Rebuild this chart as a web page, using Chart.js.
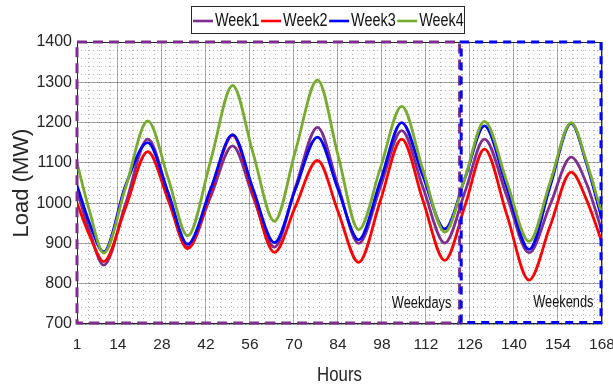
<!DOCTYPE html>
<html lang="en">
<head>
<meta charset="UTF-8">
<title>Weekly Load</title>
<script src="https://cdn.jsdelivr.net/npm/chart.js"></script>
<style>
body {
    margin: 0;
    background: #fff;
}
.wrap {
    width: 613px;
    height: 384px;
}
</style>
</head>
<body>
<div class="wrap"><canvas id="loadChart" width="613" height="384"></canvas></div>
<script>
const hours = [1, 5, 9.5, 16.5, 23.5, 30, 36.2, 43.5, 50.5, 57, 63.8, 70.5, 77.5, 84, 90.6, 97.5, 104.3, 111, 118, 124.5, 130.6, 137.7, 144.8, 151.5, 158.2, 163, 168];
const week1 = [1030, 930, 846, 1000, 1159, 1025, 890, 1016, 1142, 1016, 891, 1040, 1188, 1044, 900, 1040, 1180, 1040, 901, 1030, 1159, 1018, 877, 996, 1114, 1050, 930];
const week2 = [1000, 920, 855, 990, 1128, 1008, 887, 1028, 1168, 1023, 878, 992, 1106, 980, 853, 1006, 1159, 1008, 858, 996, 1134, 972, 809, 943, 1077, 1010, 903];
const week3 = [1044, 950, 879, 1045, 1150, 1025, 898, 1035, 1170, 1035, 902, 1035, 1164, 1035, 909, 1055, 1200, 1068, 936, 1064, 1192, 1040, 885, 1042, 1198, 1100, 960];
const week4 = [1100, 980, 876, 1040, 1204, 1062, 919, 1105, 1292, 1124, 955, 1130, 1306, 1120, 934, 1087, 1240, 1084, 928, 1065, 1203, 1054, 905, 1052, 1200, 1105, 972];

const xTicks = [1, 14, 28, 42, 56, 70, 84, 98, 112, 126, 140, 154, 168];
const yTicks = [700, 800, 900, 1000, 1100, 1200, 1300, 1400];

// dashed regions: [start hour, end hour]
const weekdaysSpan = [1, 122.7];
const weekendsSpan = [123.2, 168];

const FONT = '"Liberation Sans", Arial, sans-serif';
const INK = '#262626';

function series(vals) {
    return hours.map((h, i) => ({ x: h, y: vals[i] }));
}

// narrow text like the original figure
function narrowText(ctx, text, x, y, size, sx, align) {
    ctx.save();
    ctx.font = size + 'px ' + FONT;
    ctx.textBaseline = 'middle';
    ctx.textAlign = 'left';
    const w = ctx.measureText(text).width * sx;
    let left = x;
    if (align === 'center') left = x - w / 2;
    ctx.translate(left, y);
    ctx.scale(sx, 1);
    ctx.fillText(text, 0, 0);
    ctx.restore();
    return w;
}

const minorX = [];
for (let h = 1; h < 168; h += 3.5) minorX.push(h);
const minorY = [];
for (let v = 700; v <= 1400; v += 20) minorY.push(v);

const figurePlugin = {
    id: 'figure',
    beforeDatasetsDraw(chart) {
        const { ctx, chartArea: a } = chart;
        ctx.save();
        ctx.strokeStyle = INK;
        ctx.lineWidth = 1;
        ctx.strokeRect(a.left + 0.5, a.top + 0.5, a.width - 1, a.height - 1);
        ctx.restore();
    },
    afterDatasetsDraw(chart) {
        const { ctx, scales: { x, y } } = chart;
        ctx.save();
        ctx.lineWidth = 3;
        ctx.strokeStyle = '#7E2F8E';
        ctx.setLineDash([10, 6]);
        let x0 = x.getPixelForValue(weekdaysSpan[0]), x1 = x.getPixelForValue(weekdaysSpan[1]);
        ctx.strokeRect(x0, y.getPixelForValue(1400), x1 - x0, y.getPixelForValue(700) - y.getPixelForValue(1400) - 1);
        ctx.strokeStyle = '#0000FF';
        ctx.setLineDash([8, 6]);
        x0 = x.getPixelForValue(weekendsSpan[0]); x1 = x.getPixelForValue(weekendsSpan[1]);
        ctx.strokeRect(x0, y.getPixelForValue(1400), x1 - x0 - 1, y.getPixelForValue(704) - y.getPixelForValue(1400));
        ctx.restore();

        ctx.fillStyle = '#111';
        narrowText(ctx, 'Weekdays', x.getPixelForValue(110.6), y.getPixelForValue(750), 16, 0.8, 'center');
        narrowText(ctx, 'Weekends', x.getPixelForValue(155.7), y.getPixelForValue(752), 16, 0.8, 'center');
    },
    afterDraw(chart) {
        const { ctx, chartArea: a } = chart;
        // x axis title
        ctx.fillStyle = INK;
        narrowText(ctx, 'Hours', (a.left + a.right) / 2, 375, 21, 0.8, 'center');

        // legend
        const sets = chart.data.datasets.slice().sort((p, q) => p.legendIndex - q.legendIndex);
        let cx = 193;
        const ly = 21;
        ctx.save();
        ctx.strokeStyle = INK;
        ctx.lineWidth = 1;
        ctx.strokeRect(191.5, 6.5, 273, 27);
        ctx.restore();
        sets.forEach(ds => {
            ctx.save();
            ctx.strokeStyle = ds.borderColor;
            ctx.lineWidth = 2.6;
            ctx.beginPath();
            ctx.moveTo(cx, ly);
            ctx.lineTo(cx + 20, ly);
            ctx.stroke();
            ctx.restore();
            ctx.fillStyle = '#111';
            const w = narrowText(ctx, ds.label, cx + 22, ly, 18, 0.8, 'left');
            cx += 22 + w + 1.5;
        });
    }
};

const ctx = document.getElementById('loadChart').getContext('2d');
new Chart(ctx, {
    type: 'line',
    data: {
        datasets: [
            { label: 'Week1', legendIndex: 0, order: 4, data: series(week1), borderColor: '#7E2F8E' },
            { label: 'Week2', legendIndex: 1, order: 3, data: series(week2), borderColor: '#FF0000' },
            { label: 'Week3', legendIndex: 2, order: 2, data: series(week3), borderColor: '#0000FF' },
            { label: 'Week4', legendIndex: 3, order: 1, data: series(week4), borderColor: '#77AC30' }
        ]
    },
    options: {
        responsive: false,
        animation: false,
        layout: { padding: { top: 42, right: 0, left: 0, bottom: 0 } },
        elements: {
            line: { borderWidth: 2.8, cubicInterpolationMode: 'monotone', fill: false },
            point: { radius: 0 }
        },
        plugins: {
            legend: { display: false },
            tooltip: { enabled: false }
        },
        scales: {
            x: {
                type: 'linear',
                min: 1,
                max: 168,
                afterBuildTicks: s => { s.ticks = xTicks.map(v => ({ value: v })); },
                afterFit: s => { s.height = 60; s.paddingRight = 11; s.paddingLeft = 0; },
                ticks: { autoSkip: false, maxRotation: 0, padding: 11, color: INK, font: { family: FONT, size: 15.5 } },
                grid: { color: 'rgba(0,0,0,0.32)', drawTicks: false },
                border: { display: false }
            },
            xMinor: {
                type: 'linear',
                position: 'bottom',
                min: 1,
                max: 168,
                afterBuildTicks: s => { s.ticks = minorX.map(v => ({ value: v })); },
                afterFit: s => { s.height = 0; s.paddingRight = 0; s.paddingLeft = 0; },
                ticks: { display: false },
                grid: { color: 'rgba(0,0,0,0.3)', drawTicks: false },
                border: { display: false, dash: [1, 3] }
            },
            y: {
                min: 700,
                max: 1400,
                afterBuildTicks: s => { s.ticks = yTicks.map(v => ({ value: v })); },
                afterFit: s => { s.width = 77; },
                ticks: { padding: 5, color: INK, font: { family: FONT, size: 16 }, callback: v => String(v) },
                grid: { color: 'rgba(0,0,0,0.32)', drawTicks: false },
                border: { display: false },
                title: { display: true, text: 'Load (MW)', color: INK, font: { family: FONT, size: 22 }, padding: { top: 9, bottom: 0 } }
            },
            yMinor: {
                position: 'left',
                min: 700,
                max: 1400,
                afterBuildTicks: s => { s.ticks = minorY.map(v => ({ value: v })); },
                afterFit: s => { s.width = 0; },
                ticks: { display: false },
                grid: { color: 'rgba(0,0,0,0.3)', drawTicks: false },
                border: { display: false, dash: [1, 3] }
            }
        }
    },
    plugins: [figurePlugin]
});
</script>
</body>
</html>
